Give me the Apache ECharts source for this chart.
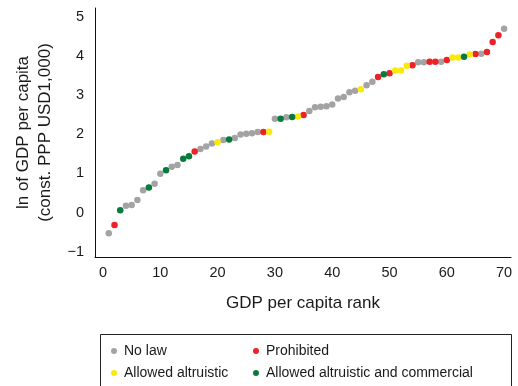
<!DOCTYPE html>
<html>
<head>
<meta charset="utf-8">
<script src="https://cdn.jsdelivr.net/npm/echarts@6/dist/echarts.min.js"></script>
<style>
  html, body { margin: 0; padding: 0; background: #fff; }
  #chart { width: 518px; height: 386px; }
</style>
</head>
<body>
<div id="chart"></div>
<script>
// ln of GDP per capita for ranks 1..70
const lnGdp = [
  -0.53, -0.32, 0.06, 0.17, 0.19, 0.32, 0.57, 0.64, 0.74, 0.99,
  1.08, 1.17, 1.22, 1.38, 1.44, 1.56, 1.63, 1.69, 1.77, 1.80,
  1.86, 1.87, 1.91, 2.00, 2.02, 2.03, 2.06, 2.06, 2.07, 2.40,
  2.40, 2.44, 2.45, 2.46, 2.50, 2.60, 2.70, 2.71, 2.72, 2.77,
  2.92, 2.96, 3.08, 3.12, 3.16, 3.26, 3.35, 3.47, 3.54, 3.57,
  3.64, 3.64, 3.76, 3.77, 3.85, 3.85, 3.86, 3.86, 3.86, 3.91,
  3.97, 3.97, 3.99, 4.05, 4.06, 4.07, 4.11, 4.37, 4.54, 4.71
];
// N = no law, P = prohibited, A = allowed altruistic, C = altruistic and commercial
const status = [
  'N','P','C','N','N','N','N','C','N','N',
  'C','N','N','C','C','P','N','N','N','A',
  'N','C','N','N','N','N','N','P','A','N',
  'C','N','C','A','P','N','N','N','N','N',
  'N','N','N','N','A','N','N','P','C','P',
  'A','A','A','P','N','N','P','P','N','P',
  'A','A','C','A','P','N','P','P','P','N'
];
const groups = ['N', 'P', 'A', 'C'];
const groupNames = ['No law', 'Prohibited', 'Allowed altruistic', 'Allowed altruistic and commercial'];
const groupColors = ['#a3a3a3', '#ec2227', '#fbe90a', '#087a3b'];
const xTicks = [0, 10, 20, 30, 40, 50, 60, 70];
const yTicks = [-1, 0, 1, 2, 3, 4, 5];

const font = '"Liberation Sans", Arial, Helvetica, sans-serif';
const chart = echarts.init(document.getElementById('chart'), null, { renderer: 'canvas' });

const series = groups.map((g, gi) => ({
  name: groupNames[gi],
  type: 'scatter',
  symbolSize: 6.5,
  itemStyle: { color: groupColors[gi], opacity: 1 },
  data: lnGdp.map((v, i) => [i + 1, v]).filter((_, i) => status[i] === g),
}));

// legend laid out as a 2x2 block, one legend per entry
const legendPos = [[111, 344], [253, 344], [111, 366], [253, 366]];
const legends = groupNames.map((name, i) => ({
  data: [name],
  left: legendPos[i][0],
  top: legendPos[i][1],
  padding: 0,
  itemWidth: 6, itemHeight: 6,
  icon: 'circle',
  textStyle: { fontFamily: font, fontSize: 14, color: '#1a1a1a', padding: [0, 0, 0, 2] },
  selectedMode: false,
}));

chart.setOption({
  animation: false,
  backgroundColor: '#fff',
  grid: { left: 95, right: 7, top: 8, bottom: 129, containLabel: false, outerBoundsMode: 'none' },
  xAxis: {
    type: 'value',
    min: -1.4,
    max: 71.2,
    name: 'GDP per capita rank',
    nameLocation: 'middle',
    nameGap: 38,
    nameTextStyle: { fontFamily: font, fontSize: 17, color: '#1a1a1a' },
    axisLine: { onZero: false, lineStyle: { color: '#111', width: 1 } },
    axisTick: { show: false },
    splitLine: { show: false },
    axisLabel: {
      customValues: xTicks,
      margin: 8,
      fontFamily: font, fontSize: 14.5, color: '#1a1a1a',
    },
  },
  yAxis: {
    type: 'value',
    min: -1.14,
    max: 5.24,
    name: 'ln of GDP per capita\n(const. PPP USD1,000)',
    nameLocation: 'middle',
    nameRotate: 90,
    nameGap: 33,
    nameTextStyle: { fontFamily: font, fontSize: 17, color: '#1a1a1a', lineHeight: 22 },
    axisLine: { show: true, onZero: false, lineStyle: { color: '#111', width: 1 } },
    axisTick: { show: false },
    splitLine: { show: false },
    axisLabel: {
      customValues: yTicks,
      margin: 11,
      fontFamily: font, fontSize: 14.5, color: '#1a1a1a',
      formatter: v => String(v).replace('-', '\u2212'),
    },
  },
  legend: legends,
  graphic: [{
    type: 'rect',
    shape: { x: 100.5, y: 334.5, width: 411, height: 60 },
    style: { fill: 'none', stroke: '#222', lineWidth: 1 },
    silent: true,
  }],
  series: series,
});
</script>
</body>
</html>
